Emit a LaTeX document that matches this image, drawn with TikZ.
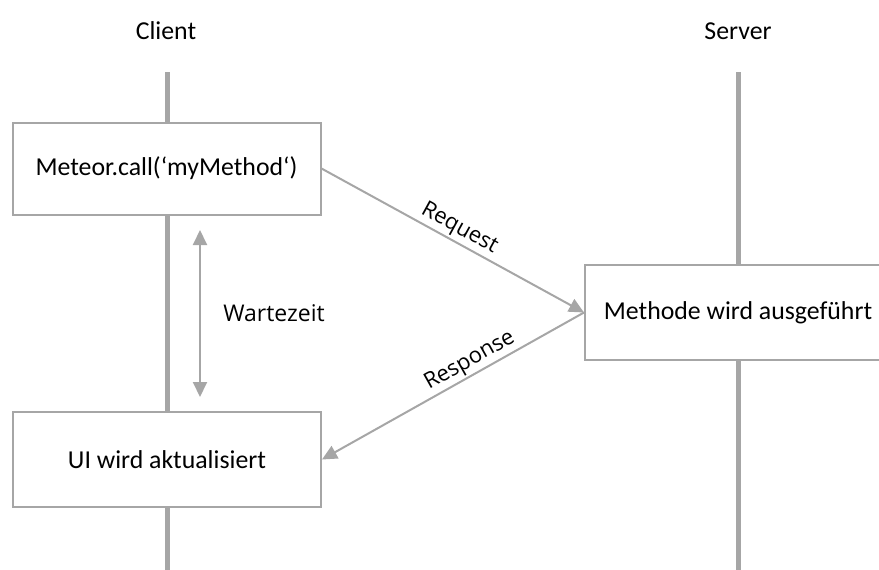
\documentclass[tikz,border=0pt]{standalone}
\usepackage{fontspec}
\setmainfont{Carlito}
\newfontfamily\labelfont{Open Sans}
\usetikzlibrary{arrows.meta}
\definecolor{linegray}{HTML}{A6A6A6}
\begin{document}
\begin{tikzpicture}[x=1pt,y=-1pt,
  lifeline/.style={draw=linegray, line width=5pt},
  stepbox/.style={draw=linegray, line width=2pt, fill=white, inner sep=0pt,
    font=\fontsize{25.8}{30}\selectfont},
  msg/.style={draw=linegray, line width=2pt,
    -{Triangle[length=15pt,width=14pt]}},
  wait/.style={draw=linegray, line width=2pt,
    {Triangle[length=15pt,width=14pt]}-{Triangle[length=15pt,width=14pt]}},
  msglabel/.style={font=\labelfont\fontsize{22}{26}\selectfont, inner sep=2pt},
  head/.style={font=\fontsize{25.8}{30}\selectfont}]
\useasboundingbox (0,0) rectangle (879,570);

% participants
\node[head] (client) at (166,31) {Client};
\node[head] (server) at (738,31) {Server};

% lifelines
\coordinate (ctop) at (167,72);
\coordinate (cbot) at (167,572);
\coordinate (stop) at (738,72);
\coordinate (sbot) at (738,572);
\draw[lifeline] (ctop) -- (cbot);
\draw[lifeline] (stop) -- (sbot);

% activity boxes
\node[stepbox, minimum width=308pt, minimum height=92pt] (call) at (166.5,168.5)
  {Meteor.call(‘myMethod‘)};
\node[stepbox, minimum width=306pt, minimum height=95pt] (exec) at (738,312.5)
  {Methode wird ausgeführt};
\node[stepbox, minimum width=308pt, minimum height=95pt] (ui) at (167,459.5)
  {UI wird aktualisiert};

% messages
\draw[msg] (call.east) -- (exec.west)
  node[msglabel, pos=0.5, above, sloped] (req) {Request};
\draw[msg] (exec.west) -- (ui.east)
  node[msglabel, pos=0.41, above, sloped] (resp) {Response};

% waiting time
\coordinate (wtop) at (200,230);
\coordinate (wbot) at (200,397);
\draw[wait] (wtop) -- (wbot);
\node[font=\labelfont\fontsize{23}{27}\selectfont] (wlabel) at (274,313) {Wartezeit};
\end{tikzpicture}
\end{document}
